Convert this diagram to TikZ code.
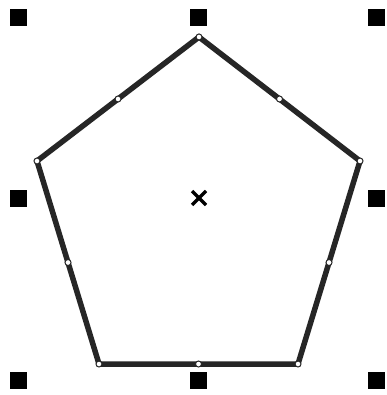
\documentclass[tikz,border=0pt]{standalone}
\usetikzlibrary{calc}
\begin{document}
\begin{tikzpicture}[x=1pt,y=-1pt,
  handle/.style={fill=black,draw=none,minimum size=17pt,inner sep=0pt},
  vtx/.style={circle,draw=black!85,fill=white,line width=1pt,minimum size=6pt,inner sep=0pt},
  edge/.style={draw=black!85,line width=5.5pt,line join=miter},
  xmark/.style={line width=3.5pt,draw=black}]
\useasboundingbox (0,0) rectangle (386,395);
\fill[white] (0,0) rectangle (386,395);
% vertices
\coordinate (A) at (199,37);
\coordinate (B) at (360,161);
\coordinate (C) at (298,364);
\coordinate (D) at (99,364);
\coordinate (E) at (37,161);
\draw[edge] (A) -- (B) -- (C) -- (D) -- (E) -- cycle;
% vertex and midpoint markers
\foreach \p in {A,B,C,D,E} \node[vtx] (v\p) at (\p) {};
\node[vtx] (mAB) at ($(A)!0.5!(B)$) {};
\node[vtx] (mBC) at ($(B)!0.5!(C)$) {};
\node[vtx] (mCD) at ($(C)!0.5!(D)$) {};
\node[vtx] (mDE) at ($(D)!0.5!(E)$) {};
\node[vtx] (mEA) at ($(E)!0.5!(A)$) {};
% selection handles
\node[handle] (h1) at (18,18) {};
\node[handle] (h2) at (198,18) {};
\node[handle] (h3) at (376,18) {};
\node[handle] (h4) at (18,198) {};
\node[handle] (h5) at (376,198) {};
\node[handle] (h6) at (18,380) {};
\node[handle] (h7) at (198,380) {};
\node[handle] (h8) at (376,380) {};
% centre mark
\coordinate (O) at (199,198);
\draw[xmark] ($(O)+(-7,-7)$) -- ($(O)+(7,7)$);
\draw[xmark] ($(O)+(-7,7)$) -- ($(O)+(7,-7)$);
\end{tikzpicture}
\end{document}
